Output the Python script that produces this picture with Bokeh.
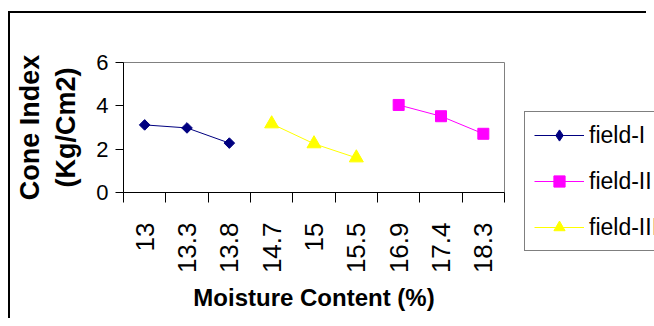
import math
from bokeh.plotting import figure
from bokeh.layouts import row
from bokeh.models import FixedTicker, Legend, LegendItem, Range1d
from bokeh.embed import file_html
from bokeh.resources import INLINE

# ---- data ----
categories = ["13", "13.3", "13.8", "14.7", "15", "15.5", "16.9", "17.4", "18.3"]

field1_x = ["13", "13.3", "13.8"]
field1_y = [3.12, 2.98, 2.28]

field2_x = ["16.9", "17.4", "18.3"]
field2_y = [4.04, 3.52, 2.71]

field3_x = ["14.7", "15", "15.5"]
field3_y = [3.17, 2.25, 1.6]

y_ticks = [0, 2, 4, 6]

series_names = ["field-I", "field-II", "field-III"]

FONT = "Liberation Sans"
COLORS = ["#000080", "#FF00FF", "#FFFF00"]


def pos(cats):
    return [categories.index(c) + 0.5 for c in cats]


# ---------------- main chart ----------------
p = figure(
    width=520, height=318,
    min_border_left=123, min_border_right=16,
    min_border_top=62, min_border_bottom=126,
    x_range=Range1d(0, len(categories)), y_range=Range1d(0, 6),
    output_backend="svg", toolbar_location=None,
)
p.background_fill_color = "white"
p.border_fill_color = None
p.outline_line_color = "#808080"
p.outline_line_width = 1
p.xgrid.visible = False
p.ygrid.visible = False

# x axis: labels at category centres, tick marks at category boundaries
xa = p.xaxis[0]
xa.ticker = FixedTicker(ticks=[i + 0.5 for i in range(len(categories))],
                        minor_ticks=list(range(len(categories) + 1)))
xa.major_label_overrides = {i + 0.5: c for i, c in enumerate(categories)}
xa.major_label_orientation = math.pi / 2
xa.major_tick_out = 0
xa.major_tick_in = 0
xa.minor_tick_out = 10
xa.minor_tick_in = 0
xa.minor_tick_line_color = "black"
xa.major_label_standoff = 20
xa.major_label_text_font = FONT
xa.major_label_text_font_size = "26px"
xa.major_label_text_color = "black"
xa.axis_label = "Moisture Content (%)"
xa.axis_label_text_font = FONT
xa.axis_label_text_font_style = "bold"
xa.axis_label_text_font_size = "24px"
xa.axis_label_text_color = "black"
xa.axis_label_standoff = 8
xa.axis_line_color = "black"

ya = p.yaxis[0]
ya.ticker = FixedTicker(ticks=y_ticks, minor_ticks=[])
ya.major_tick_out = 8
ya.major_tick_in = 0
ya.major_tick_line_color = "black"
ya.major_label_standoff = 7
ya.major_label_text_font = FONT
ya.major_label_text_font_size = "22px"
ya.major_label_text_color = "black"
ya.axis_label = "Cone Index\n(Kg/Cm2)"
ya.axis_label_text_font = FONT
ya.axis_label_text_font_style = "bold"
ya.axis_label_text_font_size = "27px"
ya.axis_label_text_color = "black"
ya.axis_label_standoff = 12
ya.axis_line_color = "black"


def draw_series(fig, first_marker, first_angle, first_size):
    out = []
    specs = [(field1_x, field1_y, first_marker, first_angle, first_size),
             (field2_x, field2_y, "square", 0, 11),
             (field3_x, field3_y, "triangle", 0, 14)]
    for (xs, ys, marker, ang, size), col in zip(specs, COLORS):
        ln = fig.line(pos(xs), ys, line_color=col, line_width=1)
        sc = fig.scatter(pos(xs), ys, marker=marker, angle=ang, size=size,
                         fill_color=col, line_color=col)
        out.append((ln, sc))
    return out


draw_series(p, "square", math.pi / 4, 7.5)

# ---------------- legend panel (right) ----------------
pl = figure(
    width=126, height=318, min_border=0,
    x_range=Range1d(100, 101), y_range=Range1d(100, 101),
    x_axis_type=None, y_axis_type=None,
    output_backend="svg", toolbar_location=None,
)
pl.background_fill_color = None
pl.border_fill_color = None
pl.outline_line_color = None
pl.xgrid.visible = False
pl.ygrid.visible = False
leg_renderers = draw_series(pl, "diamond", 0, 12)   # outside this panel's view

legend = Legend(
    items=[LegendItem(label=name, renderers=list(rs))
           for name, rs in zip(series_names, leg_renderers)],
    location=(4, -59),
    border_line_color="black", border_line_width=1,
    background_fill_color="white", background_fill_alpha=1,
    padding=9, spacing=18, margin=0,
    glyph_width=50, glyph_height=28, label_height=24, label_standoff=5,
    label_text_font=FONT, label_text_font_size="23px", label_text_color="black",
)
pl.add_layout(legend, "left")

layout = row(p, pl, spacing=0)
# outer chart border: only its left and top edges fall inside the view
layout.stylesheets = [
    ":host { background-image: linear-gradient(#000,#000), linear-gradient(#000,#000);"
    " background-size: 2px 400px, 800px 2px;"
    " background-position: 8px 11px, 8px 11px;"
    " background-repeat: no-repeat; }"
]

open("out.html", "w").write(file_html(layout, INLINE))
